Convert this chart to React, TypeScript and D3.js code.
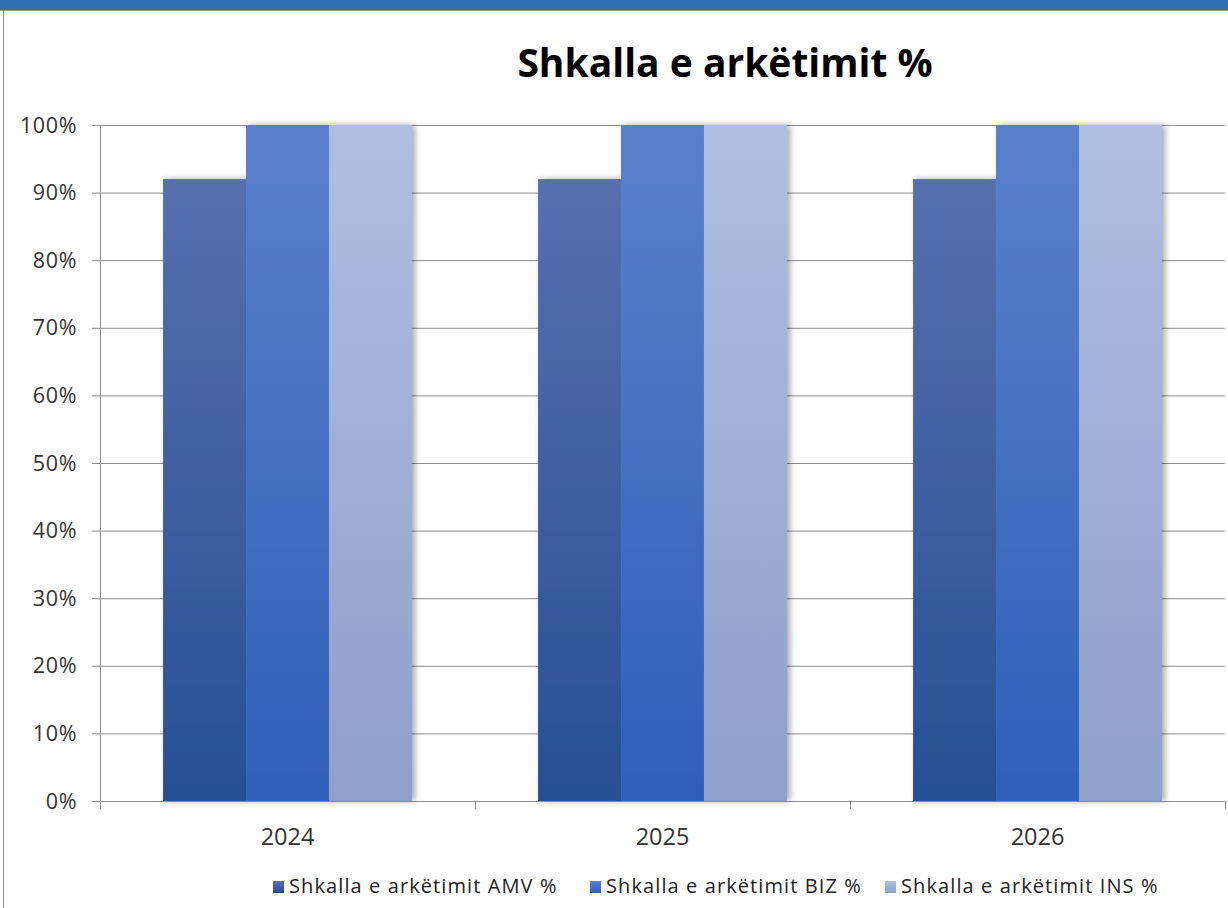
import React from "react";
import * as d3 from "d3";

const categories = ["2024", "2025", "2026"];
const seriesNames = [
  "Shkalla e arkëtimit AMV %",
  "Shkalla e arkëtimit BIZ %",
  "Shkalla e arkëtimit INS %",
];
const amvValues = [92, 92, 92];
const bizValues = [100, 100, 100];
const insValues = [100, 100, 100];
const yTicks = [0, 10, 20, 30, 40, 50, 60, 70, 80, 90, 100];
const title = "Shkalla e arkëtimit %";

const seriesValues = [amvValues, bizValues, insValues];
const gradTop = ["#5570ae", "#5b80cb", "#afbee2"];
const gradBottom = ["#274f94", "#2e60b8", "#8e9fca"];

export default function App() {
  const W = 1228, H = 908;
  const left = 100, right = 1225, top = 125, bottom = 801;
  const x = d3.scaleBand<string>().domain(categories).range([left, right]).padding(0);
  const xi = d3.scaleBand<string>().domain(seriesNames).range([0, x.bandwidth()]).paddingInner(0).paddingOuter(0.76);
  const y = d3.scaleLinear().domain([0, 100]).range([bottom, top]);
  const legendX = [273, 590, 885];
  return (
    <svg width={W} height={H} style={{ position: "absolute", left: 0, top: 0, background: "#fff" }}>
      <defs>
        {seriesNames.map((s, i) => (
          <linearGradient key={s} id={`g${i}`} x1="0" y1="0" x2="0" y2="1">
            <stop offset="0" stopColor={gradTop[i]} />
            <stop offset="1" stopColor={gradBottom[i]} />
          </linearGradient>
        ))}
        <filter id="sh" x="-20%" y="-5%" width="140%" height="110%">
          <feDropShadow dx="3" dy="0" stdDeviation="3" floodColor="#000" floodOpacity="0.35" />
        </filter>
      </defs>
      <rect x={0} y={0} width={W} height={10} fill="#2e72b5" />
      <line x1={0} x2={W} y1={10.5} y2={10.5} stroke="#a0a0a0" strokeWidth={1} />
      <line x1={3.5} x2={3.5} y1={10} y2={H} stroke="#888" strokeWidth={1} />
      <text x={725} y={77} textAnchor="middle" fontFamily="'Open Sans', sans-serif" fontWeight={700} fontSize={39} fill="#000">{title}</text>
      {yTicks.map(t => (
        <g key={t}>
          <line x1={92} x2={right} y1={y(t) + 0.5} y2={y(t) + 0.5} stroke="#8c8c8c" strokeWidth={1} />
          <text x={77} y={y(t) + 7.5} textAnchor="end" fontFamily="'Open Sans', sans-serif" fontSize={21.5} letterSpacing={0.6} fill="#333">{t}%</text>
        </g>
      ))}
      <line x1={left + 0.5} x2={left + 0.5} y1={top} y2={809} stroke="#8c8c8c" strokeWidth={1} />
      {categories.map((c, ci) => (
        <g key={c} filter="url(#sh)">
          {seriesNames.map((s, si) => (
            <rect key={s} x={(x(c) as number) + (xi(s) as number)} y={y(seriesValues[si][ci])} width={xi.bandwidth()} height={bottom - y(seriesValues[si][ci])} fill={`url(#g${si})`} />
          ))}
        </g>
      ))}
      <line x1={left} x2={right} y1={bottom + 0.5} y2={bottom + 0.5} stroke="#8c8c8c" strokeWidth={1} />
      {[...categories.map(c => x(c) as number), right].map((p, i) => (
        <line key={i} x1={p + 0.5} x2={p + 0.5} y1={bottom} y2={809} stroke="#8c8c8c" strokeWidth={1} />
      ))}
      {categories.map(c => (
        <text key={c} x={(x(c) as number) + x.bandwidth() / 2} y={845} textAnchor="middle" fontFamily="'Open Sans', sans-serif" fontSize={23.5} fill="#333">{c}</text>
      ))}
      {seriesNames.map((s, i) => (
        <g key={s}>
          <rect x={legendX[i]} y={881} width={11} height={12} fill={`url(#g${i})`} />
          <text x={legendX[i] + 16} y={893} fontFamily="'Open Sans', sans-serif" fontSize={20} letterSpacing={1.1} fill="#222">{s}</text>
        </g>
      ))}
    </svg>
  );
}
